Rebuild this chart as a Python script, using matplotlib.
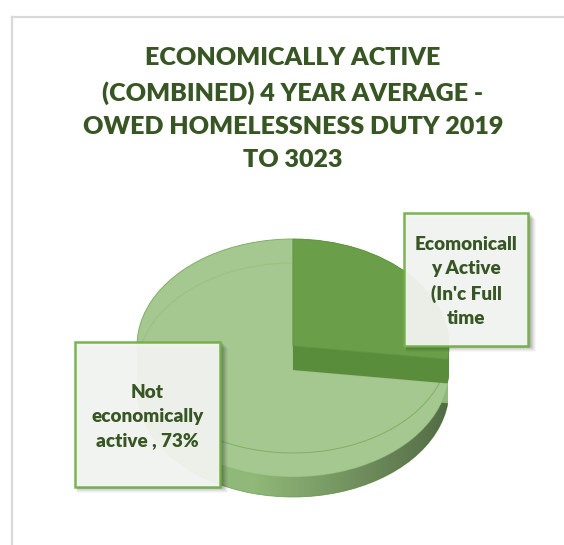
import numpy as np
import matplotlib
matplotlib.use("Agg")
import matplotlib.pyplot as plt
from matplotlib.patches import Rectangle
from matplotlib.lines import Line2D

# data
values = [27, 73]   # economically active, not economically active
slice_labels = ["Ecomonicall\ny Active\n(In'c Full\ntime",
                "Not\neconomically\nactive , 73%"]
title = ("ECONOMICALLY ACTIVE\n(COMBINED) 4 YEAR AVERAGE -\n"
         "OWED HOMELESSNESS DUTY 2019\nTO 3023")

# colours
dark_top, dark_side = "#6a9e49", "#5a8d3b"
light_top, light_side = "#a5c790", "#90b878"
txt_green = "#375623"
box_edge = "#70ad47"
FW = 800

W, H = 564, 545
fig = plt.figure(figsize=(W / 100, H / 100), dpi=100)
fig.patch.set_facecolor("white")

def fx(x):
    return x / W

def fy(y):
    return 1 - y / H

# chart area border (light grey, runs off the right/bottom edge)
fig.add_artist(Line2D([fx(11.5), fx(11.5)], [fy(16.5), 0], color="#d9d9d9", lw=1.6))
fig.add_artist(Line2D([fx(11.5), 1], [fy(16.5), fy(16.5)], color="#d9d9d9", lw=1.6))

fig.text(fx(293), fy(109), title, ha="center", va="center", fontsize=18,
         fontweight=FW, family="Lato", color=txt_green, linespacing=1.62)

# pie axes: 156 px per unit in x, 107 px per unit in y
cx, cy = 293, 370
ux, uy = 156, 107
xl, yl = 1.2, 1.5
ax = fig.add_axes([fx(cx - xl * ux), fy(cy + yl * uy),
                   2 * xl * ux / W, 2 * yl * uy / H])
ax.axis("off")

thick = 20 / uy
raise_ = 24 / uy

def layer(z, idx, color, alpha=1.0, ec="none", lw=0):
    wedges, _ = ax.pie(values, startangle=90, counterclock=False, radius=1,
                       center=(0, z), colors=[color, color],
                       wedgeprops=dict(linewidth=lw, edgecolor=ec, alpha=alpha))
    for i, w in enumerate(wedges):
        if i != idx:
            w.set_visible(False)
    return wedges[idx]

# light slice side then top
for z in np.linspace(-thick, 0, 30):
    layer(z, 1, light_side)
base = layer(-thick, 1, "none", ec="#7aa660", lw=0.6)
# darker shading towards the right on the side
shade = np.zeros((2, 256, 4))
shade[..., 3] = np.clip(np.linspace(-0.25, 0.42, 256), 0, None)
im = ax.imshow(shade, extent=(-1, 1, -1 - thick, 0), aspect="auto", zorder=1)
im.set_clip_path(base)
layer(0, 1, light_top)
layer(raise_, 1, light_top, ec="#80b064", lw=0.7)
layer(0, 1, "none", alpha=0.25, ec="#7fae63", lw=0.8)

# raised dark slice
for z in np.linspace(0, raise_, 30):
    layer(z, 0, dark_side)
layer(raise_, 0, dark_top, ec="#5f9440", lw=0.6)

ax.set_aspect("auto")
ax.set_xlim(-xl, xl)
ax.set_ylim(-yl, yl)

# label boxes with soft shadow
def label_box(x0, y0, x1, y1, text):
    for k, a in zip(range(6, 0, -1), [0.03, 0.04, 0.05, 0.06, 0.07, 0.08]):
        fig.add_artist(Rectangle((fx(x0 + 2), fy(y1 + k)), fx(x1 - x0 + k), (y1 - y0) / H,
                                 facecolor="black", alpha=a, edgecolor="none"))
    fig.add_artist(Rectangle((fx(x0), fy(y1)), fx(x1 - x0), (y1 - y0) / H,
                             facecolor="#f7f9f5", alpha=0.93, edgecolor=box_edge, lw=1.8))
    fig.text(fx((x0 + x1) / 2), fy((y0 + y1) / 2 + 2), text, ha="center", va="center",
             fontsize=13.6, fontweight=FW, family="Lato", color=txt_green,
             linespacing=1.5)

label_box(404, 213, 528, 346, slice_labels[0])
label_box(75, 342, 220, 487, slice_labels[1])

fig.savefig("out.png", dpi=100, facecolor="white")
